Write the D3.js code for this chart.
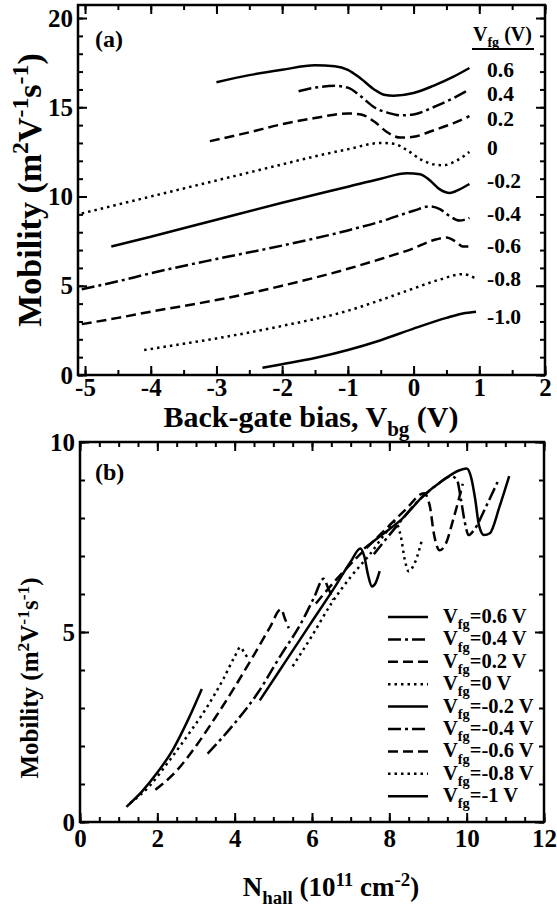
<!DOCTYPE html>
<html><head><meta charset="utf-8">
<script src="https://cdn.jsdelivr.net/npm/d3@7"></script>
<style>
body{margin:0;background:#fff}
svg{display:block}
text{font-family:"Liberation Serif","Times New Roman",serif;font-weight:bold;fill:#000}
</style>
</head><body>
<svg id="c" width="557" height="907"></svg>
<script>
// ---------------- DATA ----------------
// Panel (a): mobility vs back-gate bias, one series per front-gate bias
const vfgLabelsA = ["0.6","0.4","0.2","0","-0.2","-0.4","-0.6","-0.8","-1.0"];
const a_p06 = [[-3.0,16.4],[-2.5,16.8],[-2.0,17.1],[-1.5,17.35],[-1.2,17.3],[-1.0,17.1],[-0.8,16.6],[-0.6,16.0],[-0.45,15.7],[-0.3,15.65],[0,15.8],[0.3,16.2],[0.6,16.7],[0.85,17.2]];
const a_p04 = [[-1.75,15.9],[-1.5,16.1],[-1.2,16.2],[-1.0,16.1],[-0.8,15.6],[-0.6,15.0],[-0.4,14.7],[-0.2,14.55],[0,14.6],[0.3,15.0],[0.6,15.5],[0.85,16.0]];
const a_p02 = [[-3.1,13.1],[-2.5,13.6],[-2.0,14.05],[-1.5,14.4],[-1.0,14.65],[-0.8,14.6],[-0.6,14.2],[-0.4,13.6],[-0.2,13.3],[0,13.35],[0.3,13.7],[0.6,14.1],[0.85,14.5]];
const a_000 = [[-5.05,9.05],[-4.5,9.55],[-4.0,10.0],[-3.5,10.45],[-3.0,10.9],[-2.5,11.35],[-2.0,11.8],[-1.5,12.25],[-1.0,12.65],[-0.5,13.0],[-0.3,12.95],[-0.1,12.6],[0.1,12.1],[0.3,11.8],[0.45,11.75],[0.65,12.0],[0.85,12.5]];
const a_m02 = [[-4.6,7.2],[-4.0,7.75],[-3.0,8.7],[-2.0,9.65],[-1.0,10.55],[-0.5,11.0],[-0.1,11.3],[0.1,11.25],[0.25,10.9],[0.4,10.4],[0.55,10.2],[0.7,10.4],[0.85,10.7]];
const a_m04 = [[-5.05,4.8],[-4.5,5.25],[-4.0,5.7],[-3.0,6.5],[-2.0,7.25],[-1.0,8.1],[-0.5,8.6],[0,9.2],[0.25,9.45],[0.4,9.3],[0.55,8.9],[0.7,8.65],[0.85,8.8]];
const a_m06 = [[-5.05,2.85],[-4.5,3.2],[-4.0,3.55],[-3.0,4.2],[-2.0,5.0],[-1.0,5.95],[-0.5,6.5],[0,7.1],[0.3,7.55],[0.5,7.7],[0.65,7.45],[0.75,7.2],[0.9,7.2]];
const a_m08 = [[-4.1,1.4],[-3.5,1.75],[-3.0,2.05],[-2.0,2.75],[-1.0,3.6],[-0.5,4.2],[0,4.85],[0.4,5.35],[0.75,5.65],[0.95,5.4]];
const a_m10 = [[-2.3,0.4],[-2.0,0.6],[-1.5,0.95],[-1.0,1.4],[-0.5,1.95],[0,2.6],[0.5,3.2],[0.75,3.45],[0.95,3.55]];
const seriesA = [a_p06,a_p04,a_p02,a_000,a_m02,a_m04,a_m06,a_m08,a_m10];
// mobility level (axis units) at which each V_fg label of panel (a) sits
const labelMuA = [17.15,15.8,14.4,12.75,10.9,9.05,7.3,5.45,3.3];

// Panel (b): mobility vs Hall density
const vfgLabelsB = ["0.6","0.4","0.2","0","-0.2","-0.4","-0.6","-0.8","-1"];
const b_p06 = [[7.35,7.2],[7.8,7.55],[8.3,7.95],[8.9,8.6],[9.4,9.0],[9.8,9.25],[10.0,9.3],[10.12,9.05],[10.22,8.5],[10.32,7.8],[10.45,7.55],[10.6,7.6],[10.85,8.3],[11.1,9.1]];
const b_p04 = [[7.6,7.05],[8.2,7.8],[8.7,8.4],[9.2,8.85],[9.6,9.1],[9.75,9.0],[9.85,8.5],[9.95,7.9],[10.05,7.55],[10.2,7.7],[10.5,8.3],[10.8,8.95]];
const b_p02 = [[6.1,5.75],[6.6,6.35],[7.2,7.0],[7.8,7.6],[8.4,8.2],[8.9,8.65],[9.05,8.3],[9.15,7.6],[9.3,7.15],[9.45,7.3],[9.65,7.95],[9.9,8.9]];
const b_000 = [[5.5,4.1],[6.0,4.9],[6.5,5.75],[7.0,6.45],[7.5,7.05],[7.9,7.6],[8.15,7.9],[8.3,7.5],[8.4,6.9],[8.5,6.6],[8.65,6.8],[8.85,7.45]];
const b_m02 = [[4.65,3.2],[5.3,4.2],[5.95,5.2],[6.6,6.2],[7.0,6.85],[7.25,7.2],[7.35,7.0],[7.45,6.5],[7.55,6.2],[7.65,6.3],[7.75,6.6]];
const b_m04 = [[3.3,1.8],[4.0,2.6],[4.6,3.4],[5.2,4.4],[5.7,5.2],[6.05,5.9],[6.3,6.4],[6.42,6.15],[6.55,5.85]];
const b_m06 = [[1.95,0.85],[2.5,1.35],[3.0,2.0],[3.5,2.75],[4.0,3.55],[4.5,4.4],[4.9,5.1],[5.2,5.6],[5.3,5.35],[5.4,5.1]];
const b_m08 = [[1.3,0.5],[1.8,0.95],[2.3,1.6],[2.8,2.3],[3.3,3.05],[3.7,3.75],[4.0,4.35],[4.15,4.6],[4.25,4.45],[4.35,4.3]];
const b_m10 = [[1.2,0.4],[1.6,0.8],[2.0,1.3],[2.4,1.9],[2.8,2.7],[3.15,3.5]];
const seriesB = [b_p06,b_p04,b_p02,b_000,b_m02,b_m04,b_m06,b_m08,b_m10];

// Axis ticks
const xTicksA = [-5,-4,-3,-2,-1,0,1,2];
const yTicksA = [0,5,10,15,20];
const xTicksB = [0,2,4,6,8,10,12];
const yTicksB = [0,5,10];

// ---------------- STYLE ----------------
const dashes = [null, "13,4,3,4", "10,5", "2.5,4"]; // solid, dash-dot, dashed, dotted
const styleIdx = i => i % 4;

const svg = d3.select("#c");

function richText(sel, parts, size) {
  let shift = 0;
  parts.forEach(([t, m]) => {
    const ts = sel.append("tspan").text(t);
    let target = 0, fs = size;
    if (m === "sub") { target = size * 0.3; fs = size * 0.7; }
    if (m === "sup") { target = -size * 0.38; fs = size * 0.7; }
    ts.attr("dy", target - shift).attr("font-size", fs);
    shift = target;
  });
  return sel;
}

function drawFrame(g, x, y, xMaj, xMin, yMaj, yMin, tickFont, xPad) {
  const [x0, x1] = x.range();
  const [y0, y1] = y.range();
  g.append("g").attr("transform", `translate(0,${y0})`)
    .call(d3.axisBottom(x).tickValues(xMin).tickSizeInner(-5).tickSizeOuter(0).tickFormat(""));
  g.append("g").attr("class","lab").attr("transform", `translate(0,${y0})`)
    .call(d3.axisBottom(x).tickValues(xMaj).tickSizeInner(-9).tickSizeOuter(0).tickPadding(xPad).tickFormat(d => d < 0 ? "-" + Math.abs(d) : d));
  g.append("g").attr("transform", `translate(0,${y1})`)
    .call(d3.axisTop(x).tickValues(xMin).tickSizeInner(-5).tickSizeOuter(0).tickFormat(""));
  g.append("g").attr("transform", `translate(0,${y1})`)
    .call(d3.axisTop(x).tickValues(xMaj).tickSizeInner(-9).tickSizeOuter(0).tickFormat(""));
  g.append("g").attr("transform", `translate(${x0},0)`)
    .call(d3.axisLeft(y).tickValues(yMin).tickSizeInner(-5).tickSizeOuter(0).tickFormat(""));
  g.append("g").attr("class","lab").attr("transform", `translate(${x0},0)`)
    .call(d3.axisLeft(y).tickValues(yMaj).tickSizeInner(-9).tickSizeOuter(0).tickPadding(5));
  g.append("g").attr("transform", `translate(${x1},0)`)
    .call(d3.axisRight(y).tickValues(yMin).tickSizeInner(-5).tickSizeOuter(0).tickFormat(""));
  g.append("g").attr("transform", `translate(${x1},0)`)
    .call(d3.axisRight(y).tickValues(yMaj).tickSizeInner(-9).tickSizeOuter(0).tickFormat(""));
  g.selectAll(".domain").remove();
  g.selectAll(".tick line").attr("stroke", "#000").attr("stroke-width", 2);
  g.selectAll(".lab text").attr("font-size", tickFont).attr("fill", "#000")
    .style("font-family", '"Liberation Serif","Times New Roman",serif').style("font-weight", "bold");
  g.append("rect").attr("x", x0).attr("y", y1).attr("width", x1 - x0).attr("height", y0 - y1)
    .attr("fill", "none").attr("stroke", "#000").attr("stroke-width", 2.5);
}

function range(a, b, s) { const r = []; for (let v = a; v <= b + 1e-9; v += s) r.push(+v.toFixed(3)); return r; }

// ---------------- PANEL A ----------------
const xA = d3.scaleLinear().domain([-5.107, 2.0]).range([78, 545]);
const yA = d3.scaleLinear().domain([0, 20.73]).range([375, 5]);
const gA = svg.append("g");
drawFrame(gA, xA, yA, xTicksA, range(-5, 2, 0.5), yTicksA, range(0, 20, 1), 25, 3);

const lineA = d3.line().x(d => xA(d[0])).y(d => yA(d[1])).curve(d3.curveMonotoneX);
seriesA.forEach((s, i) => {
  gA.append("path").attr("d", lineA(s)).attr("fill", "none").attr("stroke", "#000")
    .attr("stroke-width", 2.5).attr("stroke-dasharray", dashes[styleIdx(i)]);
});
vfgLabelsA.forEach((t, i) => {
  gA.append("text").attr("x", 487).attr("y", yA(labelMuA[i]) + 8).attr("font-size", 21.5).text(t);
});
richText(gA.append("text").attr("x", 473).attr("y", 41), [["V", 0], ["fg", "sub"], [" (V)", 0]], 20);
gA.append("line").attr("x1", 472).attr("x2", 534).attr("y1", 49).attr("y2", 49).attr("stroke", "#000").attr("stroke-width", 2);
gA.append("text").attr("x", 95).attr("y", 47).attr("font-size", 24).text("(a)");

richText(gA.append("text").attr("text-anchor", "middle").attr("x", 311).attr("y", 427),
  [["Back-gate bias, V", 0], ["bg", "sub"], [" (V)", 0]], 30);
richText(gA.append("text").attr("text-anchor", "middle").attr("transform", "translate(41,190) rotate(-90)"),
  [["Mobility (m", 0], ["2", "sup"], ["V", 0], ["-1", "sup"], ["s", 0], ["-1", "sup"], [")", 0]], 34);

// ---------------- PANEL B ----------------
const xB = d3.scaleLinear().domain([0, 12]).range([80, 544]);
const yB = d3.scaleLinear().domain([0, 10]).range([822, 442]);
const gB = svg.append("g");
drawFrame(gB, xB, yB, xTicksB, range(0, 12, 0.5), yTicksB, range(0, 10, 1), 25, 7);

const lineB = d3.line().x(d => xB(d[0])).y(d => yB(d[1])).curve(d3.curveMonotoneX);
seriesB.forEach((s, i) => {
  gB.append("path").attr("d", lineB(s)).attr("fill", "none").attr("stroke", "#000")
    .attr("stroke-width", 2.5).attr("stroke-dasharray", dashes[styleIdx(i)]);
});
vfgLabelsB.forEach((t, i) => {
  const cy = 617 + i * 22.4;
  gB.append("line").attr("x1", 388).attr("x2", 428).attr("y1", cy).attr("y2", cy)
    .attr("stroke", "#000").attr("stroke-width", 2.5).attr("stroke-dasharray", dashes[styleIdx(i)]);
  richText(gB.append("text").attr("x", 443).attr("y", cy + 6),
    [["V", 0], ["fg", "sub"], ["=" + t + " V", 0]], 20.5);
});
gB.append("text").attr("x", 95).attr("y", 480).attr("font-size", 24).text("(b)");

richText(gB.append("text").attr("text-anchor", "middle").attr("x", 331).attr("y", 896),
  [["N", 0], ["hall", "sub"], [" (10", 0], ["11", "sup"], [" cm", 0], ["-2", "sup"], [")", 0]], 27);
richText(gB.append("text").attr("text-anchor", "middle").attr("transform", "translate(38,678) rotate(-90)"),
  [["Mobility (m", 0], ["2", "sup"], ["V", 0], ["-1", "sup"], ["s", 0], ["-1", "sup"], [")", 0]], 25);
</script>
</body></html>
